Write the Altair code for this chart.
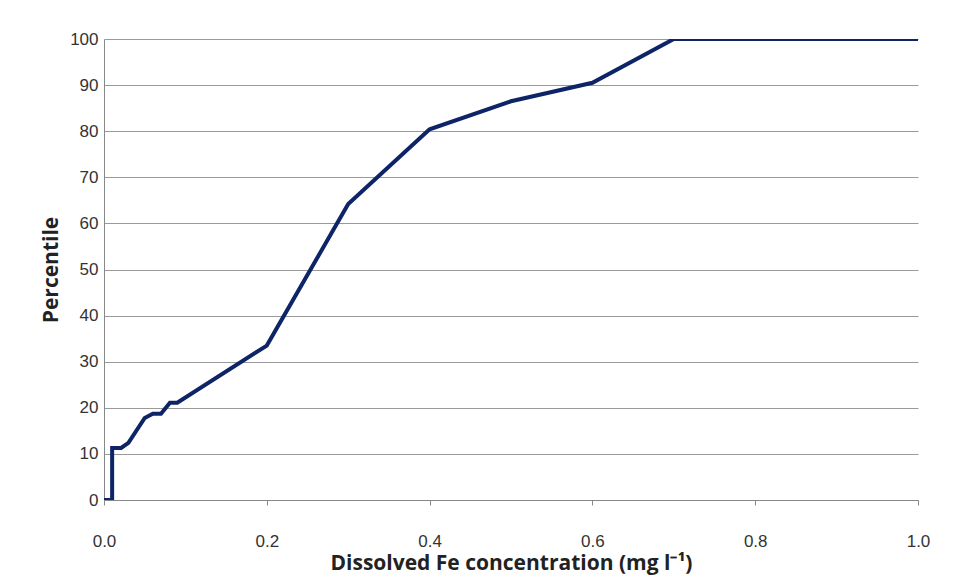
import pandas as pd
import altair as alt

conc = [0.0, 0.01, 0.01, 0.021, 0.03, 0.05, 0.06, 0.07, 0.081, 0.09, 0.2, 0.3, 0.4, 0.5, 0.6, 0.7, 1.0]
pct = [0, 0, 11.3, 11.3, 12.4, 17.8, 18.7, 18.7, 21.1, 21.1, 33.5, 64.2, 80.4, 86.5, 90.5, 100, 100]

df = pd.DataFrame({"conc": conc, "pct": pct, "order": range(len(conc))})

chart = alt.Chart(df).mark_line(color="#0d2466", strokeWidth=4, clip=True).encode(
    x=alt.X("conc:Q", scale=alt.Scale(domain=[0, 1], nice=False),
            axis=alt.Axis(values=[0, 0.2, 0.4, 0.6, 0.8, 1.0], format=".1f", grid=False,
                          labelFlush=False, labelPadding=28,
                          title="Dissolved Fe concentration (mg l\u207b\u00b9)", titlePadding=3)),
    y=alt.Y("pct:Q", scale=alt.Scale(domain=[0, 100], nice=False),
            axis=alt.Axis(values=list(range(0, 101, 10)), title="Percentile", titlePadding=8,
                          labelPadding=6, tickSize=0)),
    order="order:Q",
).properties(
    width=814, height=461, background="white",
    autosize=alt.AutoSizeParams(type="none"),
    padding={"left": 96, "top": 31, "right": 20, "bottom": 80},
).configure_view(stroke=None).configure_axis(
    labelFont="Liberation Sans", labelFontSize=17, labelColor="#333333",
    titleFont="Open Sans", titleFontSize=21, titleFontWeight="bold", titleColor="#222222",
    domainColor="#888888", tickColor="#888888", gridColor="#9a9a9a", tickSize=5,
)

chart.save("out.html", embed_options={"renderer": "svg", "actions": False})
